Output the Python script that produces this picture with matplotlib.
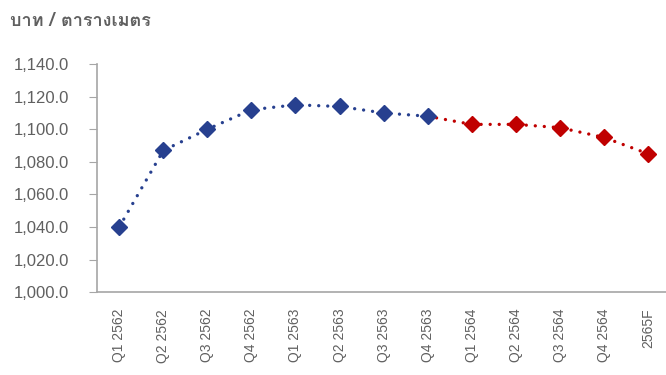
import matplotlib
matplotlib.use("Agg")
import matplotlib.pyplot as plt
from matplotlib import font_manager
from matplotlib.ft2font import FT2Font

# data
quarters = ["Q1 2562", "Q2 2562", "Q3 2562", "Q4 2562",
            "Q1 2563", "Q2 2563", "Q3 2563", "Q4 2563",
            "Q1 2564", "Q2 2564", "Q3 2564", "Q4 2564", "2565F"]
price = [1040, 1087, 1100, 1112, 1115, 1114, 1110, 1108,
         1103, 1103, 1101, 1095, 1085]
n_actual = 8  # Q1 2562 .. Q4 2563 are actual, rest forecast
title = "บาท / ตารางเมตร"

# look for a font that has Thai glyphs
thai_font = None
for f in font_manager.fontManager.ttflist:
    try:
        if FT2Font(f.fname).get_char_index(0x0E1A):
            thai_font = f.name
            break
    except Exception:
        pass
fams = ([thai_font] if thai_font else []) + ["DejaVu Sans"]

blue = "#27408F"
red = "#C00000"
grey = "#606060"

fig = plt.figure(figsize=(6.66, 3.75), dpi=100)
ax = fig.add_axes([0.146, 0.221, 0.86, 0.608])
x = list(range(len(quarters)))

# forecast part first, so blue sits on top at the joint
ax.plot(x[n_actual - 1:], price[n_actual - 1:], color=red, lw=2.4,
        linestyle=(0, (0.01, 2.7)), dash_capstyle="round", zorder=2)
ax.plot(x[n_actual:], price[n_actual:], color=red, lw=0, marker="D", ms=8, zorder=3)
ax.plot(x[:n_actual], price[:n_actual], color=blue, lw=2.4,
        linestyle=(0, (0.01, 2.7)), dash_capstyle="round", marker="D", ms=8, zorder=4)

ax.set_ylim(1000, 1140)
ax.set_yticks(range(1000, 1141, 20))
ax.set_yticklabels(["{:,.1f}".format(v) for v in range(1000, 1141, 20)])
ax.set_xlim(-0.5, 12.5)
ax.set_xticks(x)
ax.set_xticklabels(quarters, rotation=90)

for s in ["top", "right"]:
    ax.spines[s].set_visible(False)
for s in ["left", "bottom"]:
    ax.spines[s].set_color("#A6A6A6")
    ax.spines[s].set_linewidth(1.2)
ax.tick_params(axis="y", colors="#A6A6A6", labelcolor=grey, labelsize=12, length=6, pad=14)
ax.tick_params(axis="x", length=0, labelcolor=grey, labelsize=10, pad=12)
for lab in ax.get_xticklabels() + ax.get_yticklabels():
    lab.set_family("Liberation Sans")

fig.text(0.015, 0.945, title, color=grey, fontsize=13, fontweight="bold",
         family=fams, va="center", ha="left")

fig.savefig("out.png", dpi=100)
